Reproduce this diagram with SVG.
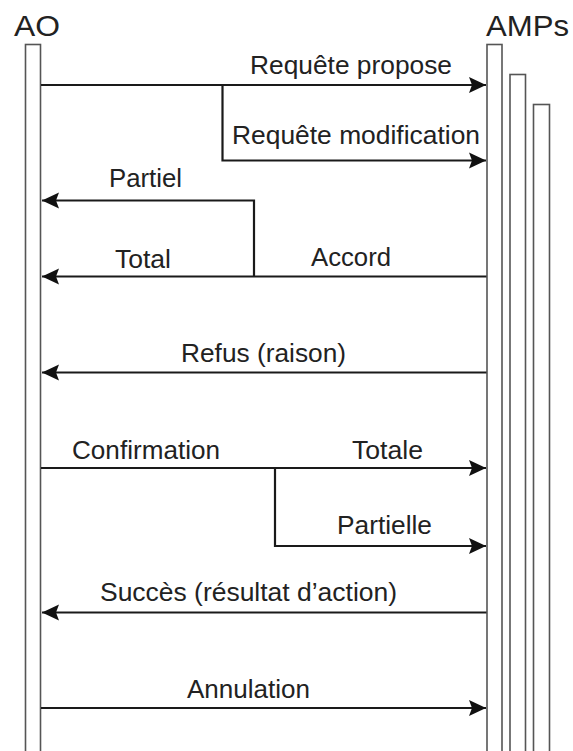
<svg xmlns="http://www.w3.org/2000/svg" width="573" height="751" viewBox="0 0 573 751">
<style>
.bar{fill:#fff;stroke:#555;stroke-width:1.6}
.ln{fill:none;stroke:#1a1a1a;stroke-width:2.2}
.t{font-family:"Liberation Sans",Arial,sans-serif;font-size:25px;fill:#222}
.h{font-family:"Liberation Sans",Arial,sans-serif;font-size:30px;fill:#222}
</style>
<defs>
<marker id="ah" markerUnits="userSpaceOnUse" markerWidth="20" markerHeight="18" refX="18" refY="9" orient="auto" viewBox="0 0 20 18">
<path d="M18,9 L1,1 L4,9 L1,17 Z" fill="#111"/>
</marker>
</defs>
<g id="AO">
<rect class="bar" x="25.5" y="44.5" width="15" height="720"/>
<text class="h" x="14" y="36" textLength="46" lengthAdjust="spacingAndGlyphs">AO</text>
</g>
<g id="AMPs">
<rect class="bar" x="533.5" y="104.5" width="16" height="660"/>
<rect class="bar" x="510" y="74.5" width="15.5" height="690"/>
<rect class="bar" x="487" y="44.5" width="15" height="720"/>
<text class="h" x="486" y="36" textLength="83" lengthAdjust="spacingAndGlyphs">AMPs</text>
</g>
<g id="connectors">
<path class="ln" d="M41,85 H486" marker-end="url(#ah)"/>
<path class="ln" d="M222.5,85 V160.5 H486" marker-end="url(#ah)"/>
<path class="ln" d="M486.5,276.5 H42" marker-end="url(#ah)"/>
<path class="ln" d="M254,276.5 V200.5 H42" marker-end="url(#ah)"/>
<path class="ln" d="M486.5,372.5 H42" marker-end="url(#ah)"/>
<path class="ln" d="M41,468 H486" marker-end="url(#ah)"/>
<path class="ln" d="M275,468 V546 H486" marker-end="url(#ah)"/>
<path class="ln" d="M486.5,612.5 H42" marker-end="url(#ah)"/>
<path class="ln" d="M41,708 H486" marker-end="url(#ah)"/>
</g>
<g id="labels">
<text class="t" x="250" y="74" textLength="202" lengthAdjust="spacingAndGlyphs">Requête propose</text>
<text class="t" x="232" y="144" textLength="248" lengthAdjust="spacingAndGlyphs">Requête modification</text>
<text class="t" x="109" y="187" textLength="73" lengthAdjust="spacingAndGlyphs">Partiel</text>
<text class="t" x="115" y="268" textLength="56" lengthAdjust="spacingAndGlyphs">Total</text>
<text class="t" x="311" y="266" textLength="80" lengthAdjust="spacingAndGlyphs">Accord</text>
<text class="t" x="181" y="362" textLength="165" lengthAdjust="spacingAndGlyphs">Refus (raison)</text>
<text class="t" x="72" y="459" textLength="148" lengthAdjust="spacingAndGlyphs">Confirmation</text>
<text class="t" x="352" y="459" textLength="71" lengthAdjust="spacingAndGlyphs">Totale</text>
<text class="t" x="337" y="534" textLength="95" lengthAdjust="spacingAndGlyphs">Partielle</text>
<text class="t" x="100" y="601" textLength="297" lengthAdjust="spacingAndGlyphs">Succès (résultat d’action)</text>
<text class="t" x="187" y="698" textLength="123" lengthAdjust="spacingAndGlyphs">Annulation</text>
</g>
</svg>
